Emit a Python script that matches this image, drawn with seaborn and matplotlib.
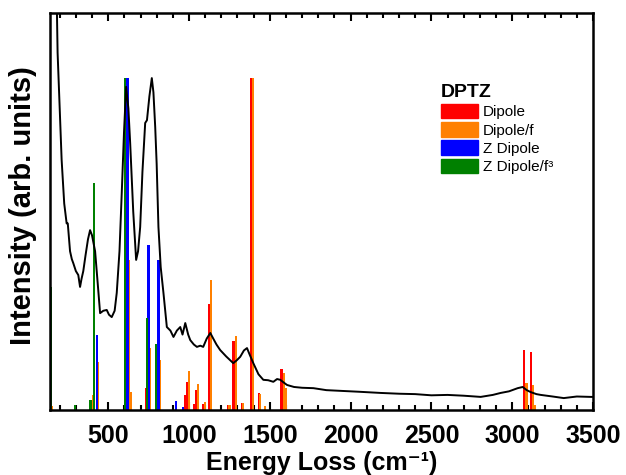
import matplotlib
matplotlib.use("Agg")
import matplotlib.pyplot as plt
from matplotlib.patches import Patch
from matplotlib.ticker import MultipleLocator
import seaborn as sns
import pandas as pd

# ---------------- data ----------------
curve_x = [150, 183, 187, 200, 212, 228, 243, 250, 264, 275, 284, 300, 315, 326, 335, 346,
           360, 375, 388, 400, 419, 435, 450, 470, 491, 505, 522, 540, 553, 570, 584, 598,
           611, 625, 636, 655, 673, 685, 698, 712, 729, 740, 755, 770, 780, 791, 800, 811,
           825, 842, 863, 885, 904, 925, 946, 960, 977, 995, 1008, 1030, 1049, 1070, 1088,
           1110, 1132, 1150, 1170, 1193, 1230, 1274, 1295, 1317, 1340, 1359, 1375, 1398,
           1430, 1460, 1490, 1522, 1545, 1565, 1590, 1607, 1650, 1700, 1770, 1850, 1950,
           2050, 2185, 2300, 2400, 2500, 2600, 2700, 2805, 2880, 2929, 2980, 3034, 3065,
           3090, 3115, 3150, 3177, 3250, 3319, 3400, 3486, 3500]
curve_y = [1.10, 1.00, 0.90, 0.76, 0.63, 0.52, 0.47, 0.47, 0.40, 0.38, 0.37, 0.35, 0.34, 0.31, 0.33, 0.35,
           0.39, 0.43, 0.453, 0.44, 0.40, 0.32, 0.244, 0.25, 0.252, 0.24, 0.234, 0.25, 0.295, 0.40, 0.547, 0.70,
           0.814, 0.76, 0.673, 0.50, 0.378, 0.40, 0.461, 0.60, 0.723, 0.73, 0.79, 0.836, 0.80, 0.713, 0.62, 0.461,
           0.36, 0.295, 0.209, 0.20, 0.184, 0.20, 0.209, 0.19, 0.219, 0.19, 0.176, 0.165, 0.159, 0.162, 0.159,
           0.18, 0.194, 0.18, 0.165, 0.151, 0.135, 0.118, 0.125, 0.134, 0.15, 0.156, 0.14, 0.118,
           0.09, 0.076, 0.075, 0.071, 0.078, 0.076, 0.068, 0.063, 0.058, 0.056, 0.055, 0.05, 0.048,
           0.046, 0.043, 0.041, 0.040, 0.037, 0.038, 0.036, 0.033, 0.038, 0.043, 0.047, 0.055, 0.058,
           0.05, 0.045, 0.04, 0.038, 0.034, 0.030, 0.034, 0.033, 0.033]

dipole_x = [615, 733, 805, 977, 987, 1032, 1045, 1086, 1125, 1245, 1276, 1328, 1383, 1435, 1573, 3073, 3115]
dipole_y = [0.17, 0.055, 0.075, 0.038, 0.071, 0.015, 0.050, 0.015, 0.267, 0.013, 0.174, 0.017, 0.836,
            0.042, 0.103, 0.151, 0.147]

dipole_f_x = [150, 404, 437, 628, 640, 758, 822, 1001, 1055, 1100, 1138, 1250, 1292, 1333, 1395, 1440,
              1472, 1588, 1602, 3088, 3129, 3140]
dipole_f_y = [0.01, 0.038, 0.121, 0.378, 0.046, 0.156, 0.126, 0.098, 0.065, 0.021, 0.327, 0.013, 0.186,
              0.017, 0.836, 0.040, 0.010, 0.093, 0.055, 0.068, 0.063, 0.013]

zdipole_x = [429, 619, 749, 811, 919, 965]
zdipole_y = [0.19, 0.836, 0.416, 0.378, 0.023, 0.008]

zdipole_f3_x = [148, 295, 390, 413, 605, 739, 797]
zdipole_f3_y = [0.31, 0.012, 0.025, 0.573, 0.836, 0.232, 0.166]

series_names = ["Dipole", "Dipole/f", "Z Dipole", "Z Dipole/f³"]
series_colors = ["#ff0000", "#ff8000", "#0000ff", "#008000"]
xticks = [500, 1000, 1500, 2000, 2500, 3000, 3500]

# ---------------- plot ----------------
sns.set_theme(style="ticks")
plt.rcParams["font.family"] = ["Liberation Sans", "DejaVu Sans"]
plt.rcParams["text.color"] = "black"
plt.rcParams["axes.labelcolor"] = "black"
plt.rcParams["xtick.color"] = "black"
plt.rcParams["ytick.color"] = "black"

fig = plt.figure(figsize=(6.26, 4.75), dpi=100)
ax = fig.add_axes([50 / 626, 65 / 475, 543 / 626, 397 / 475])

bar_w = 14
for xs, ys, c in zip([dipole_x, dipole_f_x, zdipole_x, zdipole_f3_x],
                     [dipole_y, dipole_f_y, zdipole_y, zdipole_f3_y], series_colors):
    ax.bar(xs, ys, width=bar_w, color=c, linewidth=0, zorder=2)

df = pd.DataFrame({"x": curve_x, "y": curve_y})
sns.lineplot(data=df, x="x", y="y", color="black", linewidth=1.4, ax=ax,
             estimator=None, sort=False, zorder=3)

ax.set_xlim(140, 3500)
ax.set_ylim(0, 1)
ax.set_yticks([])
ax.set_xticks(xticks)
ax.xaxis.set_minor_locator(MultipleLocator(100))
ax.tick_params(axis="x", which="both", direction="in", top=True, bottom=True,
               width=1.5, color="black", labelcolor="black", labelsize=18, pad=10)
ax.tick_params(axis="x", which="major", length=5.5)
ax.tick_params(axis="x", which="minor", length=3.5)
for lab in ax.get_xticklabels():
    lab.set_fontweight("bold")
for sp in ax.spines.values():
    sp.set_linewidth(1.8)
    sp.set_color("black")

ax.set_xlabel("Energy Loss (cm⁻¹)", fontsize=18, fontweight="bold", labelpad=2, color="black")
ax.set_ylabel("Intensity (arb. units)", fontsize=21, fontweight="bold", color="black")
ax.yaxis.set_label_coords(-0.024, 0.514)

handles = [Patch(facecolor=c, edgecolor=c, label=n) for n, c in zip(series_names, series_colors)]
leg = ax.legend(handles=handles, title="DPTZ", loc="upper left",
                bbox_to_anchor=((441 - 50) / 543, (410 - 84) / 397),
                frameon=False, fontsize=11, title_fontproperties={"weight": "bold", "size": 14},
                handlelength=2.4, handleheight=1.1, handletextpad=0.35, labelspacing=0.18,
                borderpad=0, borderaxespad=0, alignment="left", labelcolor="black")
leg.get_title().set_color("black")

fig.savefig("out.png", dpi=100)
